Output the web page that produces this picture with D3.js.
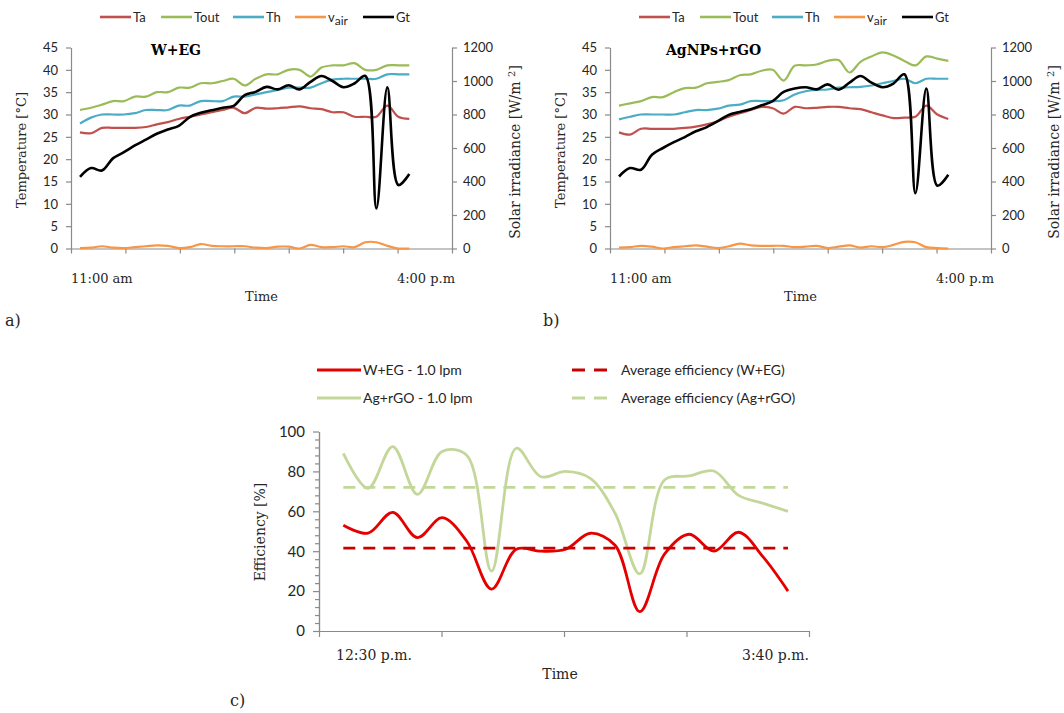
<!DOCTYPE html>
<html>
<head>
<meta charset="utf-8">
<script src="https://cdn.jsdelivr.net/npm/d3@7"></script>
<style>
  body { margin: 0; background: #fff; }
</style>
</head>
<body>
<svg id="fig" width="1064" height="713"></svg>
<script>
// ---- data: panels a) and b), 10-minute samples from 11:00 to 16:00 ----
const timeIdx = d3.range(31);
const tempTicks = [0, 5, 10, 15, 20, 25, 30, 35, 40, 45];
const gtTicks = [0, 200, 400, 600, 800, 1000, 1200];

const taA   = [26, 25.8, 27, 27, 27, 27, 27.2, 27.8, 28.3, 29, 29.5, 30, 30.5, 31, 31.5, 30.3, 31.5, 31.3, 31.4, 31.6, 31.8, 31.4, 31.2, 30.5, 30.5, 29.5, 29.5, 29.5, 32, 29.5, 29];
const toutA = [31, 31.5, 32.2, 33, 33, 34, 34, 35, 35, 36, 36, 37, 37, 37.5, 38, 36.5, 38, 39, 39, 40, 40, 38.5, 40.5, 41, 41, 41.5, 40, 40, 41, 41, 41];
const thA   = [28, 29.3, 30, 30, 30, 30.3, 31, 31, 31, 32, 32, 33, 33, 33, 34, 34, 34.5, 35, 35.5, 36, 36, 36, 37, 37.8, 38, 38, 38, 38, 39, 39, 39];
const vairA = [0.1, 0.2, 0.5, 0.2, 0.1, 0.3, 0.5, 0.7, 0.6, 0.1, 0.3, 1.0, 0.6, 0.5, 0.5, 0.5, 0.2, 0.1, 0.4, 0.4, 0, 0.8, 0.3, 0.3, 0.5, 0.3, 1.4, 1.4, 0.6, 0, 0];
const gtA   = [428, 480, 466, 538, 575, 615, 650, 685, 710, 732, 785, 810, 825, 840, 852, 915, 935, 965, 950, 975, 950, 995, 1030, 1000, 963, 985, 1030, 239, 963, 379, 445];

const taB   = [26, 25.5, 26.8, 26.8, 26.8, 26.8, 27, 27.3, 27.8, 28.5, 29.5, 30.3, 31, 31.7, 31.4, 30.2, 31.7, 31.4, 31.5, 31.7, 31.7, 31.4, 31.2, 30.5, 29.8, 29.2, 29.3, 29.5, 32, 30, 29];
const toutB = [32, 32.5, 33, 33.9, 33.9, 35, 35.9, 36, 37, 37.3, 37.7, 38.8, 39, 39.8, 40, 37.6, 40.9, 41, 41.2, 42, 42.2, 39.4, 41.8, 43, 43.9, 43.2, 42, 41, 43, 42.5, 42];
const thB   = [28.9, 29.5, 30, 30, 30, 30, 30.5, 31, 31, 31.3, 32, 32.2, 33, 33, 33, 33.2, 34.5, 35.2, 35.5, 35.6, 36, 36.1, 36.2, 36.5, 37, 37.5, 38, 37, 38, 38, 38];
const vairB = [0.2, 0.3, 0.6, 0.4, 0, 0.3, 0.5, 0.7, 0.4, 0.1, 0.5, 1.1, 0.7, 0.6, 0.6, 0.6, 0.3, 0.4, 0.6, 0.1, 0.4, 0.7, 0.2, 0.5, 0.3, 0.8, 1.5, 1.4, 0.3, 0.1, 0];
const gtB   = [430, 480, 470, 560, 600, 635, 665, 700, 725, 760, 798, 815, 832, 855, 880, 935, 955, 963, 950, 980, 948, 990, 1030, 990, 963, 985, 1040, 330, 955, 375, 440];

// ---- data: panel c), efficiency from 12:30 to 15:40 ----
const effIdx = d3.range(19);
const effTicks = [0, 20, 40, 60, 80, 100];
const effWEG = [53, 49, 59.5, 46.8, 56.8, 45, 21, 41, 40, 41, 49, 43, 9.7, 38.5, 48.5, 40, 49.5, 37, 20];
const effAg  = [89, 71.5, 92.4, 68.5, 90, 88, 30, 91.6, 77.3, 80, 76.5, 59, 28.6, 75.7, 77.7, 80.2, 68, 64, 60];
const avgWEG = 41.5;
const avgAg = 72;

const svg = d3.select('#fig');
const GRAY = '#8a8a8a';
const SANS = 'Lato, "Open Sans", sans-serif';
const SERIF = '"DejaVu Serif", serif';
const TEXT = '#262626';

function styleAxis(g, size) {
  g.select('.domain').attr('stroke', GRAY).attr('stroke-width', 1.2);
  g.selectAll('.tick line').attr('stroke', GRAY).attr('stroke-width', 1.2);
  g.selectAll('.tick text').attr('fill', TEXT).attr('font-family', SANS).attr('font-size', size);
}

function label(x, y, txt, opts = {}) {
  const t = svg.append('text')
    .attr('x', x).attr('y', y)
    .attr('font-family', opts.font || SERIF)
    .attr('font-size', opts.size || 13)
    .attr('font-weight', opts.weight || 'normal')
    .attr('fill', opts.fill || TEXT)
    .attr('text-anchor', opts.anchor || 'start')
    .text(txt);
  if (opts.rotate) t.attr('transform', `rotate(-90,${x},${y})`);
  return t;
}

// panel a) / b): temperatures (left axis) and solar irradiance (right axis)
function drawPanel(ox, title, titleX, s) {
  const L = 71 + ox, R = 452 + ox, T = 47.5, B = 248.5;
  const x = d3.scaleLinear().domain([-0.82, 33.89]).range([L, R]);
  const yT = d3.scaleLinear().domain([0, 45]).range([B, T]);
  const yG = d3.scaleLinear().domain([0, 1200]).range([B, T]);
  const [d0, d1] = x.domain();
  const xt = d3.range(8).map(i => d0 + i * (d1 - d0) / 7);

  svg.append('g').attr('transform', `translate(0,${B})`)
    .call(d3.axisBottom(x).tickValues(xt).tickFormat('').tickSize(5).tickSizeOuter(0))
    .call(g => styleAxis(g, 13));
  svg.append('g').attr('transform', `translate(${L},0)`)
    .call(d3.axisLeft(yT).tickValues(tempTicks).tickSize(5).tickSizeOuter(0).tickPadding(8))
    .call(g => styleAxis(g, 13));
  svg.append('g').attr('transform', `translate(${R},0)`)
    .call(d3.axisRight(yG).tickValues(gtTicks).tickFormat(d3.format('d')).tickSize(5).tickSizeOuter(0).tickPadding(6))
    .call(g => styleAxis(g, 13));

  const curve = d3.curveCatmullRom.alpha(0.5);
  const lineT = d3.line().x((d, i) => x(timeIdx[i])).y(d => yT(d)).curve(curve);
  const lineG = d3.line().x((d, i) => x(timeIdx[i])).y(d => yG(d)).curve(curve);

  const series = [
    { name: 'Ta',   vals: s.ta,   color: '#c0504d', w: 2.2, gen: lineT },
    { name: 'Tout', vals: s.tout, color: '#9bbb59', w: 2.2, gen: lineT },
    { name: 'Th',   vals: s.th,   color: '#4bacc6', w: 2.2, gen: lineT },
    { name: 'vair', vals: s.vair, color: '#f79646', w: 2.2, gen: lineT },
    { name: 'Gt',   vals: s.gt,   color: '#000000', w: 2.6, gen: lineG }
  ];
  series.forEach(d => {
    svg.append('path').datum(d.vals)
      .attr('fill', 'none').attr('stroke', d.color)
      .attr('stroke-width', d.w).attr('stroke-linejoin', 'round')
      .attr('d', d.gen);
  });

  // legend
  const legX = [100, 161, 233, 295, 363];
  series.forEach((d, i) => {
    const lx = legX[i] + ox;
    svg.append('line').attr('x1', lx).attr('x2', lx + 31).attr('y1', 17).attr('y2', 17)
      .attr('stroke', d.color).attr('stroke-width', 2.6);
    const t = svg.append('text').attr('x', lx + 33).attr('y', 21.5)
      .attr('font-family', SANS).attr('font-size', 13).attr('fill', TEXT);
    if (d.name === 'vair') {
      t.append('tspan').text('v');
      t.append('tspan').attr('dy', 3).attr('font-size', 12).text('air');
    } else {
      t.text(d.name);
    }
  });

  label(titleX, 55, title, { size: 14, weight: 'bold', fill: '#000' });
  label(L, 283, '11:00 am');
  label(R + 3, 283, '4:00 p.m', { anchor: 'end' });
  label((L + R) / 2, 301, 'Time', { anchor: 'middle' });
  label(26 + ox, 150, 'Temperature [°C]', { anchor: 'middle', rotate: true });

  const sx = 520 + ox, sy = 152;
  const st = svg.append('text').attr('x', sx).attr('y', sy)
    .attr('font-family', SERIF).attr('font-size', 14).attr('fill', TEXT)
    .attr('text-anchor', 'middle').attr('transform', `rotate(-90,${sx},${sy})`);
  st.append('tspan').text('Solar irradiance [W/m ');
  st.append('tspan').attr('dy', -5).attr('font-size', 10).text('2');
  st.append('tspan').attr('dy', 5).text(']');
}

drawPanel(0, 'W+EG', 151, { ta: taA, tout: toutA, th: thA, vair: vairA, gt: gtA });
drawPanel(539, 'AgNPs+rGO', 666, { ta: taB, tout: toutB, th: thB, vair: vairB, gt: gtB });

label(5, 326, 'a)', { size: 16 });
label(543, 326, 'b)', { size: 16 });

// panel c): efficiency
(function () {
  const L = 319, R = 809, T = 431.5, B = 631;
  const x = d3.scaleLinear().domain([-0.984, 18.85]).range([L, R]);
  const y = d3.scaleLinear().domain([0, 100]).range([B, T]);
  const [d0, d1] = x.domain();
  const xt = d3.range(5).map(i => d0 + i * (d1 - d0) / 4);
  const minor = d3.range(0, 101, 4).filter(v => v % 20 !== 0);

  svg.append('g').attr('transform', `translate(${L},0)`)
    .call(d3.axisLeft(y).tickValues(minor).tickFormat('').tickSize(4).tickSizeOuter(0))
    .call(g => styleAxis(g, 15));
  svg.append('g').attr('transform', `translate(${L},0)`)
    .call(d3.axisLeft(y).tickValues(effTicks).tickSize(6).tickSizeOuter(0).tickPadding(8))
    .call(g => styleAxis(g, 15));
  svg.append('g').attr('transform', `translate(0,${B})`)
    .call(d3.axisBottom(x).tickValues(xt).tickFormat('').tickSize(6).tickSizeOuter(0))
    .call(g => styleAxis(g, 15));

  const curve = d3.curveCatmullRom.alpha(0.5);
  const line = d3.line().x((d, i) => x(effIdx[i])).y(d => y(d)).curve(curve);
  const first = effIdx[0], last = effIdx[effIdx.length - 1];

  svg.append('line').attr('x1', x(first)).attr('x2', x(last))
    .attr('y1', y(avgAg)).attr('y2', y(avgAg))
    .attr('stroke', '#c4d79b').attr('stroke-width', 2.6).attr('stroke-dasharray', '12,8');
  [{ vals: effAg, color: '#c4d79b' }, { vals: effWEG, color: '#e50000' }].forEach(d => {
    svg.append('path').datum(d.vals)
      .attr('fill', 'none').attr('stroke', d.color).attr('stroke-width', 2.8)
      .attr('stroke-linejoin', 'round').attr('d', line);
  });
  svg.append('line').attr('x1', x(first)).attr('x2', x(last))
    .attr('y1', y(avgWEG)).attr('y2', y(avgWEG))
    .attr('stroke', '#c80000').attr('stroke-width', 2.8).attr('stroke-dasharray', '12,8');

  // legend
  const leg = [
    { x: 317, y: 370, color: '#e50000', dash: null, text: 'W+EG - 1.0 lpm' },
    { x: 317, y: 398, color: '#c4d79b', dash: null, text: 'Ag+rGO - 1.0 lpm' },
    { x: 572, y: 370, color: '#c80000', dash: '13,9', text: 'Average efficiency (W+EG)' },
    { x: 572, y: 398, color: '#c4d79b', dash: '13,9', text: 'Average efficiency (Ag+rGO)' }
  ];
  leg.forEach(d => {
    const len = d.dash ? 35 : 44;
    svg.append('line').attr('x1', d.x).attr('x2', d.x + len).attr('y1', d.y).attr('y2', d.y)
      .attr('stroke', d.color).attr('stroke-width', 2.8)
      .attr('stroke-dasharray', d.dash);
    svg.append('text').attr('x', d.dash ? 621 : d.x + 46).attr('y', d.y + 5)
      .attr('font-family', SANS).attr('font-size', 14).attr('fill', TEXT).text(d.text);
  });

  label(L + 17, 660, '12:30 p.m.', { size: 14 });
  label(R, 660, '3:40 p.m.', { size: 14, anchor: 'end' });
  label((L + R) / 2 - 4, 679, 'Time', { size: 14, anchor: 'middle' });
  label(265, 532, 'Efficiency [%]', { size: 14, anchor: 'middle', rotate: true });
  label(230, 706, 'c)', { size: 16 });
})();
</script>
</body>
</html>
